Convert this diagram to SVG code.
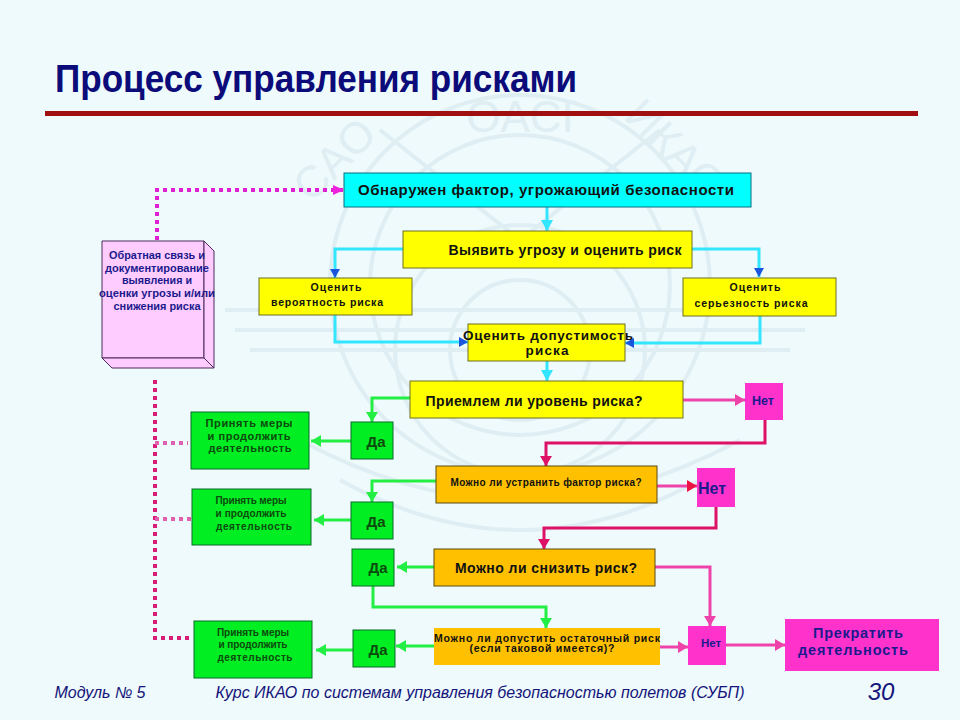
<svg xmlns="http://www.w3.org/2000/svg" width="960" height="720" viewBox="0 0 960 720">
<style>
text{font-family:"Liberation Sans",Arial,sans-serif;text-anchor:middle;font-weight:bold}
.k{fill:#111}
.n{fill:#1a1a8c}
.g{fill:#0d4a0d}
.y{fill:#ffff00;stroke:#6e6e20;stroke-width:1}
.c{fill:#00ffff;stroke:#0a6e80;stroke-width:1}
.o{fill:#ffc000;stroke:#5a4a10;stroke-width:1}
.gr{fill:#00ee22;stroke:#0a6a28;stroke-width:1}
.m{fill:#ff33cc;stroke:none}
.p{fill:#ffccff;stroke:#4a2a5a;stroke-width:1}
.f{fill:none}
.wire{fill:none;stroke-width:3}
.cy{stroke:#33e6ff}
.grn{stroke:#22ee44}
.pk{stroke:#ee44aa}
.rd{stroke:#dd1166}
.dot{fill:none;stroke:#d81b78;stroke-width:4;stroke-dasharray:4 4}
.wm{fill:none;stroke:#dfeef3;stroke-width:4}
.wmt{fill:#dfeef3;font-weight:normal}
</style>
<defs>
<marker id="ac" markerUnits="userSpaceOnUse" markerWidth="14" markerHeight="14" refX="11" refY="6" orient="auto"><path d="M0 0L11 6L0 12Z" fill="#33e6ff"/></marker>
<marker id="ab" markerUnits="userSpaceOnUse" markerWidth="12" markerHeight="12" refX="9" refY="5" orient="auto"><path d="M0 0L9 5L0 10Z" fill="#1a55dd"/></marker>
<marker id="ag" markerUnits="userSpaceOnUse" markerWidth="14" markerHeight="14" refX="10" refY="6" orient="auto"><path d="M0 0L10 6L0 12Z" fill="#22ee44"/></marker>
<marker id="ap" markerUnits="userSpaceOnUse" markerWidth="14" markerHeight="14" refX="10" refY="6" orient="auto"><path d="M0 0L10 6L0 12Z" fill="#ee44aa"/></marker>
<marker id="ar" markerUnits="userSpaceOnUse" markerWidth="14" markerHeight="14" refX="10" refY="6" orient="auto"><path d="M0 0L10 6L0 12Z" fill="#dd1166"/></marker>
<marker id="arr" markerUnits="userSpaceOnUse" markerWidth="14" markerHeight="14" refX="10" refY="6" orient="auto"><path d="M0 0L10 6L0 12Z" fill="#ee1144"/></marker>
<marker id="am" markerUnits="userSpaceOnUse" markerWidth="14" markerHeight="14" refX="11" refY="5" orient="auto"><path d="M0 0L11 5L0 10Z" fill="#ee22dd"/></marker>
</defs>
<rect width="960" height="720" fill="#eefafc"/>
<g id="watermark">
<circle class="wm" cx="520" cy="285" r="190" stroke-width="3"/>
<circle class="wm" cx="520" cy="285" r="150"/>
<circle class="wm" cx="520" cy="350" r="125"/>
<circle class="wm" cx="520" cy="350" r="70"/>
<path class="wm" d="M225 310H815M235 330H805M250 350H790M380 130L520 240L660 130M340 480Q520 580 700 480M300 440Q520 560 740 440"/>
<text class="wmt" font-size="44" transform="translate(520 132)">OACI</text>
<text class="wmt" font-size="44" transform="translate(345 170) rotate(-45)">CAO</text>
<text class="wmt" font-size="44" transform="translate(665 160) rotate(45)">ИКАО</text>
</g>
<g id="title">
<text x="316" y="92" font-size="38" fill="#0b0b7a" textLength="522" lengthAdjust="spacingAndGlyphs">Процесс управления рисками</text>
<rect x="45" y="111" width="873" height="5" fill="#a01010"/>
</g>
<g id="connectors">
<path class="wire cy" d="M547 207V231" marker-end="url(#ac)"/>
<path class="wire cy" d="M403 249H335V278" marker-end="url(#ab)"/>
<path class="wire cy" d="M692 249H759V277" marker-end="url(#ab)"/>
<path class="wire cy" d="M335 315V342H468" marker-end="url(#ab)"/>
<path class="wire cy" d="M760 316V343H625" marker-end="url(#ab)"/>
<path class="wire cy" d="M547 361V381" marker-end="url(#ac)"/>
<path class="wire grn" d="M410 398H372V422" marker-end="url(#ag)"/>
<path class="wire grn" d="M351 441H311" marker-end="url(#ag)"/>
<path class="wire grn" d="M436 481H372V502" marker-end="url(#ag)"/>
<path class="wire grn" d="M351 520H314" marker-end="url(#ag)"/>
<path class="wire grn" d="M434 567H397" marker-end="url(#ag)"/>
<path class="wire grn" d="M373 586V607H546V628" marker-end="url(#ag)"/>
<path class="wire grn" d="M434 646H396" marker-end="url(#ag)"/>
<path class="wire grn" d="M353 650H316" marker-end="url(#ag)"/>
<path class="wire pk" d="M683 400H745" marker-end="url(#ap)"/>
<path class="wire rd" d="M765 420V443H546V466" marker-end="url(#ar)"/>
<path class="wire pk" d="M657 486H697" marker-end="url(#arr)"/>
<path class="wire rd" d="M716 507V528H544V549" marker-end="url(#ar)"/>
<path class="wire pk" d="M655 567H710V626" marker-end="url(#ap)"/>
<path class="wire pk" d="M660 647H688" marker-end="url(#ap)"/>
<path class="wire pk" d="M726 645H785" marker-end="url(#ap)"/>
<path class="dot" style="stroke:#e020d0" d="M157 240V190H344" marker-end="url(#am)"/>
<path class="dot" d="M155 380V638H192"/>
<path class="dot" style="stroke:#e060b0" d="M155 443H188"/>
<path class="dot" style="stroke:#e060b0" d="M155 519H192"/>
</g>
<g id="feedback">
<path class="p" d="M102 241H204V358H102Z"/>
<path class="p" d="M204 241L214 251V368L204 358Z"/>
<path class="p" d="M102 358H204L214 368H112Z"/>
<g class="n" font-size="11.5">
<text x="157" y="259" fill="#1a1a8c" textLength="96" lengthAdjust="spacingAndGlyphs">Обратная связь и</text>
<text x="157" y="272" fill="#1a1a8c" textLength="104" lengthAdjust="spacingAndGlyphs">документирование</text>
<text x="157" y="284" fill="#1a1a8c" textLength="70" lengthAdjust="spacingAndGlyphs">выявления и</text>
<text x="157" y="297" fill="#1a1a8c" textLength="116" lengthAdjust="spacingAndGlyphs">оценки  угрозы и/или</text>
<text x="157" y="310" fill="#1a1a8c" textLength="87" lengthAdjust="spacingAndGlyphs">снижения риска</text>
</g>
</g>
<g id="n1"><rect class="c" x="344" y="173" width="407" height="34"/><text class="k" x="546" y="195" font-size="15" textLength="376">Обнаружен фактор, угрожающий безопасности</text></g>
<g id="n2"><rect class="y" x="403" y="231" width="289" height="37"/><text class="k" x="565" y="255" font-size="14" textLength="233">Выявить угрозу и оценить риск</text></g>
<g id="n3"><rect class="y" x="259" y="278" width="153" height="37"/><text class="k" x="336" y="291" font-size="10.5" textLength="51">Оценить</text><text class="k" x="327" y="306" font-size="10.5" textLength="112">вероятность риска</text></g>
<g id="n4"><rect class="y" x="683" y="278" width="153" height="38"/><text class="k" x="755" y="291" font-size="10.5" textLength="51">Оценить</text><text class="k" x="751" y="307" font-size="10.5" textLength="113">серьезность риска</text></g>
<g id="n5"><rect class="y" x="468" y="324" width="157" height="37"/><text class="k" x="548" y="340" font-size="13.5" textLength="170">Оценить допустимость</text><text class="k" x="547" y="355" font-size="13.5" textLength="43">риска</text></g>
<g id="n6"><rect class="y" x="410" y="381" width="273" height="37"/><text class="k" x="534" y="406" font-size="14" textLength="217">Приемлем ли уровень риска?</text></g>
<g id="n7"><rect class="m" x="745" y="383" width="38" height="37"/><text class="n" x="763" y="405" font-size="12.5">Нет</text></g>
<g id="n8"><rect class="o" x="436" y="466" width="221" height="37"/><text class="k" x="546" y="486" font-size="10" textLength="191">Можно ли устранить фактор риска?</text></g>
<g id="n9"><rect class="m" x="697" y="468" width="38" height="39"/><text class="n" x="712" y="494" font-size="16">Нет</text></g>
<g id="n10"><rect class="o" x="434" y="549" width="221" height="37"/><text class="k" x="546" y="573" font-size="14" textLength="182">Можно ли снизить риск?</text></g>
<g id="n11"><rect x="434" y="628" width="226" height="37" fill="#ffc000"/><text class="k" x="547" y="642" font-size="10.5" textLength="226">Можно ли допустить остаточный риск</text><text class="k" x="542" y="652" font-size="10.5" textLength="145">(если таковой имеется)?</text></g>
<g id="n12"><rect class="m" x="688" y="626" width="38" height="39"/><text class="n" x="711" y="647" font-size="11.5">Нет</text></g>
<g id="n13"><rect class="m" x="785" y="619" width="154" height="52"/><text class="n" x="858" y="638" font-size="14.5" textLength="90">Прекратить</text><text class="n" x="853" y="655" font-size="14.5" textLength="110">деятельность</text></g>
<g id="d1"><rect class="gr" x="351" y="422" width="42" height="37"/><text class="g" x="376" y="447" font-size="15">Да</text></g>
<g id="d2"><rect class="gr" x="351" y="502" width="42" height="37"/><text class="g" x="376" y="527" font-size="15">Да</text></g>
<g id="d3"><rect class="gr" x="352" y="549" width="42" height="37"/><text class="g" x="378" y="573" font-size="15">Да</text></g>
<g id="d4"><rect class="gr" x="353" y="630" width="42" height="37"/><text class="g" x="378" y="655" font-size="15">Да</text></g>
<g id="a1"><rect class="gr" x="191" y="412" width="118" height="57"/><text class="g" x="249" y="427" font-size="11" textLength="87">Принять меры</text><text class="g" x="249" y="440" font-size="11" textLength="83">и продолжить</text><text class="g" x="250" y="452" font-size="11" textLength="83">деятельность</text></g>
<g id="a2"><rect class="gr" x="192" y="489" width="119" height="56"/><text class="g" x="251" y="504" font-size="10" textLength="71">Принять меры</text><text class="g" x="251" y="517" font-size="10" textLength="71">и продолжить</text><text class="g" x="254" y="530" font-size="10" textLength="76">деятельность</text></g>
<g id="a3"><rect class="gr" x="194" y="621" width="118" height="57"/><text class="g" x="253" y="636" font-size="10" textLength="72">Принять меры</text><text class="g" x="253" y="648" font-size="10" textLength="69">и продолжить</text><text class="g" x="255" y="661" font-size="10" textLength="75">деятельность</text></g>
<g id="footer" style="font-style:italic">
<text x="100" y="698" font-size="16" fill="#14147a" style="font-weight:normal" textLength="91">Модуль № 5</text>
<text x="480" y="698" font-size="16" fill="#14147a" style="font-weight:normal" textLength="529">Курс ИКАО по системам управления безопасностью полетов (СУБП)</text>
<text x="881" y="700" font-size="24" fill="#14147a" style="font-weight:normal">30</text>
</g>
</svg>
